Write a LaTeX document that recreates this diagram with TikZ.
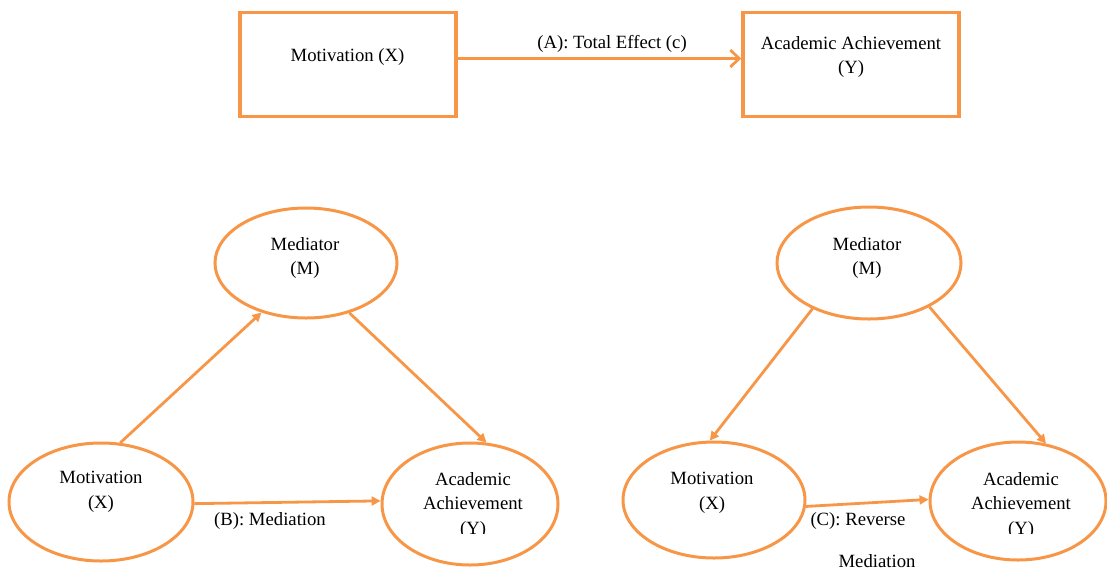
\documentclass[tikz,border=0pt]{standalone}
\usepackage{fontspec}
\setmainfont{Liberation Serif}
\usetikzlibrary{shapes.geometric,arrows.meta}
\definecolor{accent}{HTML}{F79646}
\begin{document}
\begin{tikzpicture}[x=1pt,y=-1pt,
  lbl/.style={font=\fontsize{18.7}{24.5}\selectfont, text=black, align=center, inner sep=0pt},
  box/.style={draw=accent, line width=3.4pt, rectangle, minimum width=216pt, minimum height=104pt, inner sep=0pt},
  oval/.style={draw=accent, line width=3pt, ellipse, inner sep=0pt},
  link/.style={draw=accent, line width=2.8pt, -{Triangle[length=9pt,width=9pt]}},
  openlink/.style={draw=accent, line width=2.8pt, -{Straight Barb[length=9pt,width=17pt]}}]
\useasboundingbox (0,0) rectangle (1107,571);

% (A) total effect
\node[box] (r1) at (348,64.5) {};
\node[box] (r2) at (851,64.5) {};
\node[lbl] (t1) at (347.5,57) {Motivation (X)};
\node[lbl] (t2) at (851,57) {Academic Achievement\\(Y)};
\draw[openlink] ([yshift=6pt]r1.east) -- ([yshift=6pt]r2.west);
\node[lbl] (la) at (612,44) {(A): Total Effect (c)};

% (B) mediation
\node[oval, minimum width=182pt, minimum height=110pt] (medL) at (306,263) {};
\node[oval, minimum width=184pt, minimum height=118pt] (motL) at (101,502) {};
\node[oval, minimum width=176pt, minimum height=122pt] (acL) at (470,504) {};
\node[lbl] (tmedL) at (305,258) {Mediator\\(M)};
\node[lbl] (tmotL) at (101,492) {Motivation\\(X)};
\begin{scope}
  \clip (300,440) rectangle (640,533);
  \node[lbl] (tacL) at (473,505) {Academic\\Achievement\\(Y)};
\end{scope}
\draw[link] (motL.72) -- (medL.228);
\draw[link] (medL.311) -- (acL.75);
\draw[link] (motL.-1) -- (acL.178);
\node[lbl] (lb) at (270,521) {(B): Mediation};

% (C) reverse mediation
\node[oval, minimum width=184pt, minimum height=112pt] (medR) at (869,263) {};
\node[oval, minimum width=182pt, minimum height=116pt] (motR) at (714,500) {};
\node[oval, minimum width=176pt, minimum height=118pt] (acR) at (1018,501) {};
\node[lbl] (tmedR) at (867,258) {Mediator\\(M)};
\node[lbl] (tmotR) at (712,493) {Motivation\\(X)};
\begin{scope}
  \clip (920,440) rectangle (1107,533);
  \node[lbl] (tacR) at (1021,505) {Academic\\Achievement\\(Y)};
\end{scope}
\draw[link] (medR.219) -- (motR.94);
\draw[link] (medR.324) -- (acR.64);
\draw[link] (motR.-4) -- (acR.179);
\node[lbl] (lc1) at (858,521) {(C): Reverse};
\node[lbl] (lc2) at (877,561) {Mediation};
\end{tikzpicture}
\end{document}
